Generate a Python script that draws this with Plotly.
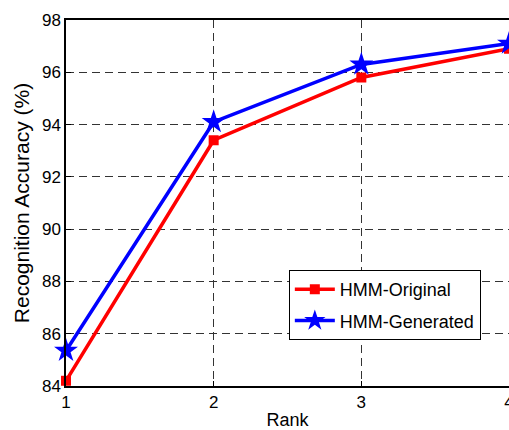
import plotly.graph_objects as go

rank = [1, 2, 3, 4]
hmm_original = [84.2, 93.4, 95.8, 96.9]
hmm_generated = [85.35, 94.1, 96.3, 97.1]
y_ticks = [84, 86, 88, 90, 92, 94, 96, 98]

font = "Liberation Sans, Arial, Helvetica, sans-serif"

fig = go.Figure()
fig.add_trace(go.Scatter(
    x=rank, y=hmm_original, name="HMM-Original", mode="lines+markers",
    line=dict(color="#ff0000", width=3.5),
    marker=dict(symbol="square", size=10, color="#ff0000"),
    cliponaxis=False, legendgroup="a",
))
fig.add_trace(go.Scatter(
    x=rank, y=hmm_generated, name="HMM-Generated", mode="lines+markers",
    line=dict(color="#0000ff", width=3.5),
    marker=dict(symbol="star", size=18, color="#0000ff"),
    cliponaxis=False, legendgroup="b",
))

axis_common = dict(
    showline=True, linecolor="black", linewidth=1.5,
    showgrid=True, gridcolor="#333333", griddash="8px,5px", gridwidth=1,
    ticks="inside", ticklen=5, tickcolor="black",
    zeroline=False,
    tickfont=dict(family=font, size=17, color="black"),
)

fig.update_xaxes(
    range=[1, 4], tickvals=rank, ticktext=[str(r) for r in rank],
    mirror=True, ticklabeloverflow="allow",
    title=dict(text="Rank", font=dict(family=font, size=18, color="black"), standoff=2),
    **axis_common,
)
fig.update_yaxes(
    range=[84, 98], tickvals=y_ticks, ticktext=[str(v) for v in y_ticks],
    mirror=False,
    title=dict(text="Recognition Accuracy (%)", font=dict(family=font, size=21, color="black"), standoff=7),
    **axis_common,
)

fig.update_layout(
    width=509, height=430,
    margin=dict(l=66, r=0, t=20, b=44, autoexpand=False),
    plot_bgcolor="white", paper_bgcolor="white",
    showlegend=True,
    legend=dict(
        x=0.503, y=0.317, xanchor="left", yanchor="top",
        bgcolor="white", bordercolor="black", borderwidth=1,
        font=dict(family=font, size=18, color="black"),
        traceorder="grouped", tracegroupgap=5, itemwidth=40,
    ),
)

fig.write_html(
    "out.html",
    config={"displayModeBar": False},
    post_script="document.body.style.margin='0';document.body.style.overflow='hidden';",
)
